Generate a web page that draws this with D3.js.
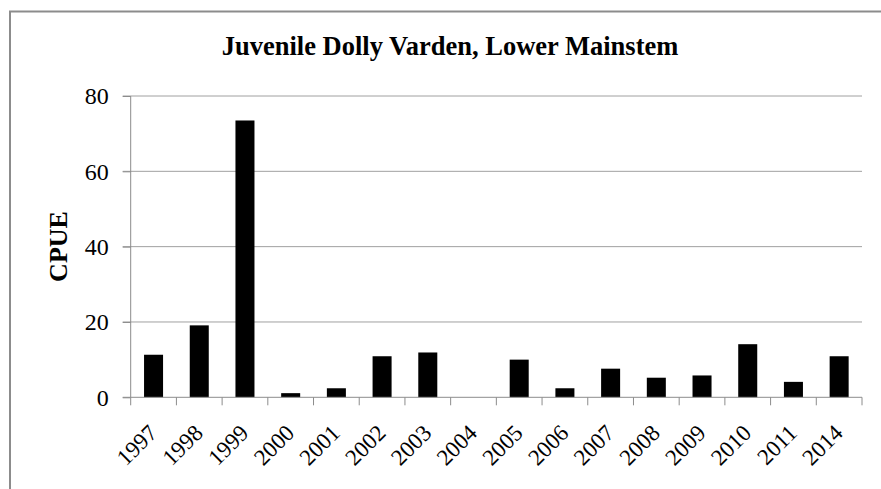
<!DOCTYPE html>
<html>
<head>
<meta charset="utf-8">
<script src="https://cdn.jsdelivr.net/npm/d3@7"></script>
<style>
  html, body { margin: 0; padding: 0; background: #fff; }
  svg { display: block; }
  text { font-family: "Liberation Serif", "Times New Roman", serif; fill: #000; }
</style>
</head>
<body>
<svg id="chart" width="881" height="489"></svg>
<script>
const title = "Juvenile Dolly Varden, Lower Mainstem";
const yLabel = "CPUE";
const years = ["1997","1998","1999","2000","2001","2002","2003","2004","2005","2006","2007","2008","2009","2010","2011","2014"];
const cpue = [11.3, 19.1, 73.5, 1.1, 2.4, 10.9, 11.9, 0, 10.0, 2.4, 7.6, 5.2, 5.8, 14.1, 4.1, 10.9];
const yTicks = [0, 20, 40, 60, 80];

(function () {
const svg = d3.select("#chart");
const pLeft = 130.7, pRight = 862, pTop = 96, pBottom = 397.3;

// outer frame
svg.append("rect")
  .attr("x", 10).attr("y", 11.5).attr("width", 900).attr("height", 600)
  .attr("fill", "none").attr("stroke", "#8c8c8c").attr("stroke-width", 2);

const x = d3.scaleBand().domain(years).range([pLeft, pRight])
  .paddingInner(0.584).paddingOuter(0.292);
const y = d3.scaleLinear().domain([0, 80]).range([pBottom, pTop]);

// gridlines
svg.append("g").selectAll("line").data(yTicks.filter(d => d > 0)).join("line")
  .attr("x1", pLeft - 8).attr("x2", pRight)
  .attr("y1", d => y(d)).attr("y2", d => y(d))
  .attr("stroke", "#a0a0a0").attr("stroke-width", 1);

// y axis
const yAxis = d3.axisLeft(y).tickValues(yTicks).tickSize(8).tickPadding(14).tickFormat(d3.format("d"));
const gy = svg.append("g").attr("transform", `translate(${pLeft},0)`).call(yAxis);
gy.select(".domain").attr("stroke", "#8c8c8c").attr("d", `M-8,${y(0)}H0V${y(80)}`);
gy.selectAll(".tick line").attr("stroke", "#8c8c8c");
gy.selectAll(".tick text").style("font-size", "24px").style("font-family", "Liberation Serif").attr("dy", "0.33em");

// bars
svg.append("g").selectAll("rect").data(years).join("rect")
  .attr("x", (d) => x(d))
  .attr("width", x.bandwidth())
  .attr("y", (d, i) => y(cpue[i]))
  .attr("height", (d, i) => y(0) - y(cpue[i]))
  .attr("fill", "#000");

// x axis line and category boundary ticks
const step = x.step();
const x0 = x.range()[0];
const bounds = d3.range(years.length + 1).map(i => x0 + i * step);
svg.append("line").attr("x1", pLeft).attr("x2", pRight).attr("y1", y(0)).attr("y2", y(0))
  .attr("stroke", "#8c8c8c").attr("stroke-width", 1);
svg.append("g").selectAll("line").data(bounds).join("line")
  .attr("x1", d => d).attr("x2", d => d).attr("y1", y(0)).attr("y2", y(0) + 8)
  .attr("stroke", "#8c8c8c").attr("stroke-width", 1);

// x tick labels
svg.append("g").selectAll("text").data(years).join("text")
  .attr("transform", d => `translate(${x(d) + x.bandwidth() / 2 + 5},${y(0) + 37}) rotate(-45)`)
  .attr("text-anchor", "end")
  .style("font-size", "23px")
  .text(d => d);

// title
svg.append("text").attr("x", 450).attr("y", 55).attr("text-anchor", "middle")
  .style("font-size", "26.5px").style("font-weight", "bold").text(title);

// y label
svg.append("text").attr("transform", `translate(67,246.5) rotate(-90)`)
  .attr("text-anchor", "middle")
  .style("font-size", "26px").style("font-weight", "bold").text(yLabel);
})();
</script>
</body>
</html>
